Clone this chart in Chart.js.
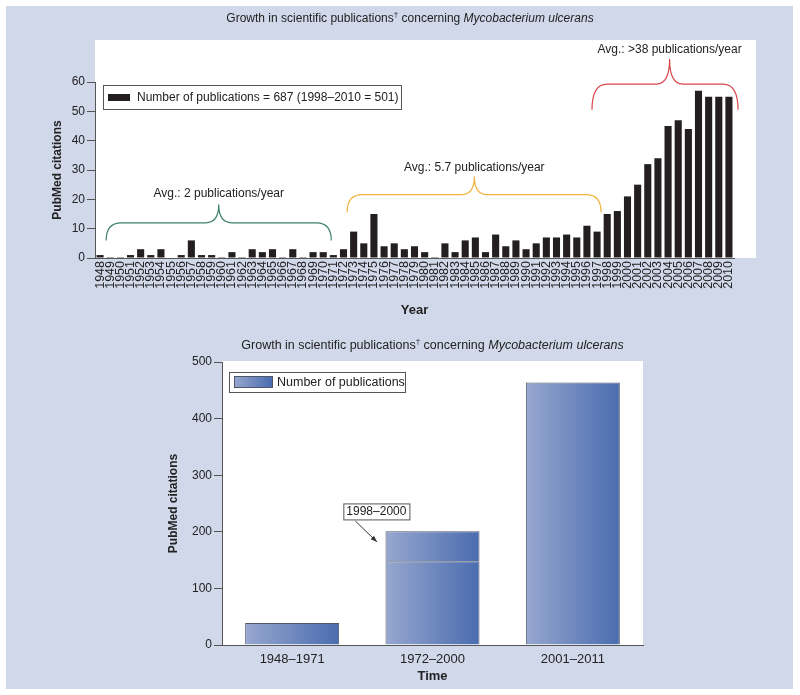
<!DOCTYPE html>
<html>
<head>
<meta charset="utf-8">
<script src="https://cdn.jsdelivr.net/npm/chart.js@4.4.1/dist/chart.umd.min.js"></script>
<style>
  html, body { margin: 0; padding: 0; background: #fff; }
  body { width: 800px; height: 695px; position: relative; overflow: hidden; }
  #panel { position: absolute; left: 6px; top: 6px; width: 787px; height: 683px; background: #d0d8ea; }
  #topChart { position: absolute; left: 0; top: 0; }
  #bottomChart { position: absolute; left: 0; top: 330px; }
</style>
</head>
<body>
<div id="panel"></div>
<canvas id="topChart" width="800" height="330"></canvas>
<canvas id="bottomChart" width="800" height="365"></canvas>
<script>
// --- data ---
const years = ['1948','1949','1950','1951','1952','1953','1954','1955','1956','1957',
  '1958','1959','1960','1961','1962','1963','1964','1965','1966','1967',
  '1968','1969','1970','1971','1972','1973','1974','1975','1976','1977',
  '1978','1979','1980','1981','1982','1983','1984','1985','1986','1987',
  '1988','1989','1990','1991','1992','1993','1994','1995','1996','1997',
  '1998','1999','2000','2001','2002','2003','2004','2005','2006','2007',
  '2008','2009','2010'];
const pubsPerYear = [1, 0.3, 0.3, 1, 3, 1, 3, 0, 1, 6,
  1, 1, 0.3, 2, 0.3, 3, 2, 3, 0.3, 3,
  0.3, 2, 2, 1, 3, 9, 5, 15, 4, 5,
  3, 4, 2, 0.3, 5, 2, 6, 7, 2, 8,
  4, 6, 3, 5, 7, 7, 8, 7, 11, 9,
  15, 16, 21, 25, 32, 34, 45, 47, 44, 57,
  55, 55, 55];
const topTicks = [0, 10, 20, 30, 40, 50, 60];

const periods = ['1948–1971', '1972–2000', '2001–2011'];
const periodPubs = [39, 148, 464];
const periodPubs1998to2000 = [null, 53, null];
const bottomTicks = [0, 100, 200, 300, 400, 500];

// brace annotations, in category index / value units
const braces = [
  { from: 0.6, to: 22.8, mid: 11.7, end: 6, flat: 12, peak: 18.2, labelY: 21.8, text: 'Avg.: 2 publications/year', color: '#3c8064' },
  { from: 24.35, to: 49.4, mid: 36.9, end: 15.5, flat: 21.6, peak: 27.8, labelY: 30.8, text: 'Avg.: 5.7 publications/year', color: '#f0b440' },
  { from: 48.5, to: 62.9, mid: 56.15, end: 50.5, flat: 59.3, peak: 67.8, labelY: 70.9, text: 'Avg.: >38 publications/year', color: '#d8464a' }
];

const FAM = '"Liberation Sans", Arial, Helvetica, sans-serif';
Chart.defaults.font.family = FAM;
Chart.defaults.color = '#222';

function drawTitle(ctx, cx, cy, size) {
  const parts = [
    { t: 'Growth in scientific publications', f: size + 'px ' + FAM, dy: 0 },
    { t: '†', f: '8px ' + FAM, dy: -4 },
    { t: ' concerning ', f: size + 'px ' + FAM, dy: 0 },
    { t: 'Mycobacterium ulcerans', f: 'italic ' + size + 'px ' + FAM, dy: 0 }
  ];
  ctx.save();
  let w = 0;
  parts.forEach(p => { ctx.font = p.f; w += ctx.measureText(p.t).width; });
  let x = cx - w / 2;
  ctx.fillStyle = '#222';
  ctx.textBaseline = 'middle';
  ctx.textAlign = 'left';
  parts.forEach(p => {
    ctx.font = p.f;
    ctx.fillText(p.t, x, cy + p.dy);
    x += ctx.measureText(p.t).width;
  });
  ctx.restore();
}

function barGradient(ctx, x0, x1) {
  const g = ctx.createLinearGradient(x0, 0, x1, 0);
  g.addColorStop(0, '#97a7cf');
  g.addColorStop(1, '#4a6caf');
  return g;
}

// --- top chart ---
const topPlugin = {
  id: 'topDecor',
  beforeDraw(chart) {
    const { ctx, chartArea: a } = chart;
    ctx.save();
    ctx.fillStyle = '#fff';
    ctx.fillRect(a.left, a.top - 42, a.right - a.left + 22, a.bottom - a.top + 42);
    ctx.restore();
    drawTitle(ctx, 410, 19, 12);
  },
  afterDatasetsDraw(chart) {
    const { ctx, chartArea: a, scales: { x, y } } = chart;
    const step = x.getPixelForValue(1) - x.getPixelForValue(0);
    const px = i => x.getPixelForValue(0) + i * step;
    ctx.save();
    braces.forEach(b => {
      const x0 = px(b.from), x1 = px(b.to), xm = px(b.mid);
      const yE = y.getPixelForValue(b.end), yF = y.getPixelForValue(b.flat), yP = y.getPixelForValue(b.peak);
      const r = 15, rm = 13;
      ctx.strokeStyle = b.color;
      ctx.lineWidth = 1.2;
      ctx.beginPath();
      ctx.moveTo(x0, yE);
      ctx.quadraticCurveTo(x0, yF, x0 + r, yF);
      ctx.lineTo(xm - rm, yF);
      ctx.quadraticCurveTo(xm, yF, xm, yP);
      ctx.quadraticCurveTo(xm, yF, xm + rm, yF);
      ctx.lineTo(x1 - r, yF);
      ctx.quadraticCurveTo(x1, yF, x1, yE);
      ctx.stroke();
      ctx.fillStyle = '#222';
      ctx.font = '12px ' + FAM;
      ctx.textAlign = 'center';
      ctx.textBaseline = 'middle';
      ctx.fillText(b.text, xm, y.getPixelForValue(b.labelY));
    });
    // legend
    const lx = a.left + 8, ly = a.top + 3;
    ctx.fillStyle = '#fff';
    ctx.fillRect(lx, ly, 298, 24);
    ctx.strokeStyle = '#555';
    ctx.lineWidth = 1;
    ctx.strokeRect(lx + 0.5, ly + 0.5, 298, 24);
    ctx.fillStyle = '#231f20';
    ctx.fillRect(lx + 5, ly + 9, 22, 7);
    ctx.fillStyle = '#222';
    ctx.font = '12px ' + FAM;
    ctx.textAlign = 'left';
    ctx.textBaseline = 'middle';
    ctx.fillText(chart.data.datasets[0].label, lx + 34, ly + 12.5);
    ctx.restore();
  }
};

new Chart(document.getElementById('topChart'), {
  type: 'bar',
  data: {
    labels: years,
    datasets: [{
      label: 'Number of publications = 687 (1998–2010 = 501)',
      data: pubsPerYear,
      backgroundColor: '#231f20',
      barPercentage: 0.7,
      categoryPercentage: 1
    }]
  },
  options: {
    responsive: false,
    animation: false,
    layout: { padding: { top: 82, right: 66, left: 0, bottom: 0 } },
    plugins: { legend: { display: false }, tooltip: { enabled: false } },
    scales: {
      x: {
        grid: { display: false, drawTicks: false },
        border: { color: '#555' },
        ticks: { minRotation: 90, maxRotation: 90, autoSkip: false, padding: 3, font: { size: 12.5 } },
        title: { display: true, text: 'Year', font: { size: 13, weight: 'bold' }, padding: { top: 0, bottom: 12 } },
        afterFit: s => { s.height = 72; }
      },
      y: {
        min: 0, max: 60,
        afterBuildTicks: s => { s.ticks = topTicks.map(v => ({ value: v })); },
        ticks: { padding: 2, font: { size: 12 } },
        grid: { drawOnChartArea: false, tickLength: 8, color: '#555' },
        border: { color: '#555' },
        title: { display: true, text: 'PubMed citations', font: { size: 12, weight: 'bold' }, padding: { top: 50 } },
        afterFit: s => { s.width = 95; }
      }
    }
  },
  plugins: [topPlugin]
});

// --- bottom chart ---
const BAR_PCT = 0.67;
function gradientFill(c) {
  if (c.type !== 'data' || !c.chart.chartArea) return '#7088bd';
  const xs = c.chart.scales.x;
  const half = (xs.getPixelForValue(1) - xs.getPixelForValue(0)) * BAR_PCT / 2;
  const cx = xs.getPixelForValue(c.dataIndex);
  return barGradient(c.chart.ctx, cx - half, cx + half);
}

const bottomPlugin = {
  id: 'bottomDecor',
  beforeDraw(chart) {
    const { ctx, chartArea: a } = chart;
    ctx.save();
    ctx.fillStyle = '#fff';
    ctx.fillRect(a.left, a.top - 1, a.right - a.left, a.bottom - a.top + 1);
    ctx.restore();
    drawTitle(ctx, (a.left + a.right) / 2, 16, 12.5);
  },
  afterDatasetsDraw(chart) {
    const { ctx, chartArea: a, scales: { x, y } } = chart;
    const step = x.getPixelForValue(1) - x.getPixelForValue(0);
    const px = i => x.getPixelForValue(0) + i * step;
    ctx.save();
    // legend
    const lx = a.left + 7, ly = a.top + 10;
    ctx.fillStyle = '#fff';
    ctx.fillRect(lx, ly, 176, 20);
    ctx.strokeStyle = '#555';
    ctx.lineWidth = 1;
    ctx.strokeRect(lx + 0.5, ly + 0.5, 176, 20);
    ctx.fillStyle = barGradient(ctx, lx + 5, lx + 43);
    ctx.fillRect(lx + 5, ly + 4, 38, 11);
    ctx.strokeStyle = '#50566a';
    ctx.strokeRect(lx + 5.5, ly + 4.5, 38, 11);
    ctx.fillStyle = '#222';
    ctx.font = '12.5px ' + FAM;
    ctx.textAlign = 'left';
    ctx.textBaseline = 'middle';
    ctx.fillText(chart.data.datasets[0].label, lx + 48, ly + 10.5);

    // 1998–2000 callout
    const bx = px(0.6), by = y.getPixelForValue(236);
    ctx.font = '12px ' + FAM;
    ctx.textAlign = 'center';
    const tw = ctx.measureText('1998–2000').width;
    ctx.fillStyle = '#fff';
    ctx.fillRect(bx - tw / 2 - 3, by - 8, tw + 6, 16);
    ctx.strokeStyle = '#555';
    ctx.strokeRect(bx - tw / 2 - 3 + 0.5, by - 8 + 0.5, tw + 6, 16);
    ctx.fillStyle = '#222';
    ctx.fillText('1998–2000', bx, by + 0.5);
    const ax0 = px(0.45), ay0 = y.getPixelForValue(219);
    const ax1 = px(0.605), ay1 = y.getPixelForValue(182);
    ctx.strokeStyle = '#333';
    ctx.lineWidth = 1;
    ctx.beginPath();
    ctx.moveTo(ax0, ay0);
    ctx.lineTo(ax1, ay1);
    ctx.stroke();
    const ang = Math.atan2(ay1 - ay0, ax1 - ax0);
    ctx.fillStyle = '#333';
    ctx.beginPath();
    ctx.moveTo(ax1, ay1);
    ctx.lineTo(ax1 - 7 * Math.cos(ang - 0.35), ay1 - 7 * Math.sin(ang - 0.35));
    ctx.lineTo(ax1 - 7 * Math.cos(ang + 0.35), ay1 - 7 * Math.sin(ang + 0.35));
    ctx.closePath();
    ctx.fill();
    ctx.restore();
  }
};

new Chart(document.getElementById('bottomChart'), {
  type: 'bar',
  data: {
    labels: periods,
    datasets: [{
      label: 'Number of publications',
      data: periodPubs,
      backgroundColor: gradientFill,
      borderColor: '#50566a',
      borderWidth: 1,
      barPercentage: BAR_PCT,
      categoryPercentage: 1
    }, {
      label: '1998–2000',
      data: periodPubs1998to2000,
      backgroundColor: gradientFill,
      borderColor: '#50566a',
      borderWidth: 1,
      barPercentage: BAR_PCT,
      categoryPercentage: 1
    }]
  },
  options: {
    responsive: false,
    animation: false,
    layout: { padding: { top: 32, right: 157, left: 0, bottom: 0 } },
    plugins: { legend: { display: false }, tooltip: { enabled: false } },
    scales: {
      x: {
        stacked: true,
        grid: { display: false, drawTicks: false },
        border: { color: '#555' },
        ticks: { padding: 7, font: { size: 13 } },
        title: { display: true, text: 'Time', font: { size: 13, weight: 'bold' }, padding: { top: 0, bottom: 11 } },
        afterFit: s => { s.height = 50; }
      },
      y: {
        stacked: true,
        min: 0, max: 500,
        afterBuildTicks: s => { s.ticks = bottomTicks.map(v => ({ value: v })); },
        ticks: { padding: 2, font: { size: 12 } },
        grid: { drawOnChartArea: false, tickLength: 8, color: '#555' },
        border: { color: '#555' },
        title: { display: true, text: 'PubMed citations', font: { size: 12, weight: 'bold' }, padding: { top: 166 } },
        afterFit: s => { s.width = 222; }
      }
    }
  },
  plugins: [bottomPlugin]
});
</script>
</body>
</html>
